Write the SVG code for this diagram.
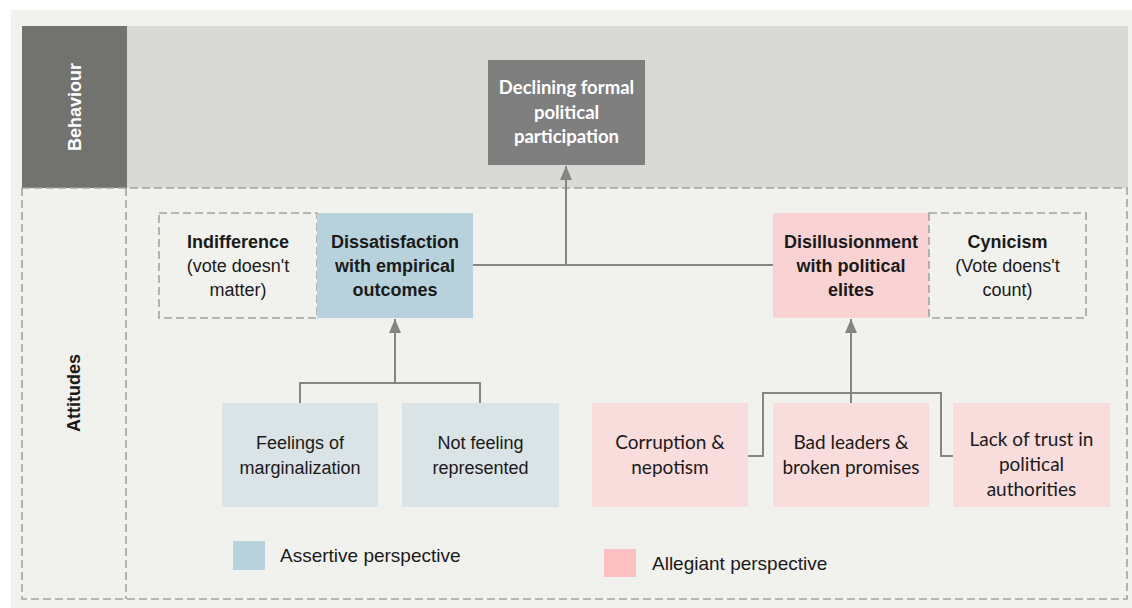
<svg xmlns="http://www.w3.org/2000/svg" width="1132" height="608" viewBox="0 0 1132 608">
<style>
.dash{fill:none;stroke:#a3a3a0;stroke-width:1.6;stroke-dasharray:8 4}
.conn{fill:none;stroke:#858582;stroke-width:2}
.a{font-family:"Liberation Sans",Arial,sans-serif;font-size:18px;fill:#1a1a1a;text-anchor:middle}
.b{font-weight:bold}
.c{font-family:Lato,"Liberation Sans",sans-serif;font-size:19px;fill:#1a1a1a;text-anchor:middle}
.w{font-family:Lato,"Liberation Sans",sans-serif;font-size:18.5px;font-weight:bold;fill:#ffffff;text-anchor:middle}
.lg{font-family:"Liberation Sans",Arial,sans-serif;font-size:19px;fill:#1a1a1a}
</style>
<defs>
<marker id="arr" viewBox="0 0 14 12" refX="14" refY="6" markerWidth="14" markerHeight="12" markerUnits="userSpaceOnUse" orient="auto">
<path d="M0,0 L14,6 L0,12 Z" fill="#858582"/>
</marker>
</defs>
<rect x="11" y="10" width="1121" height="598" fill="#f1f1ed"/>
<g id="band-behaviour">
<rect x="127" y="26" width="1001" height="162" fill="#d9d9d5"/>
<rect x="22" y="26" width="105" height="162" fill="#72726e"/>
<text x="0" y="0" transform="translate(81,107) rotate(-90)" font-family="'Liberation Sans',Arial,sans-serif" font-size="18" font-weight="bold" fill="#ffffff" text-anchor="middle">Behaviour</text>
</g>
<g id="band-attitudes">
<rect x="22" y="188" width="1105" height="411" class="dash"/>
<line x1="126" y1="188" x2="126" y2="599" class="dash"/>
<text x="0" y="0" transform="translate(80,393) rotate(-90)" font-family="'Liberation Sans',Arial,sans-serif" font-size="18" font-weight="bold" fill="#1a1a1a" text-anchor="middle">Attitudes</text>
</g>
<g id="connectors">
<line x1="566" y1="265" x2="566" y2="166" class="conn" marker-end="url(#arr)"/>
<line x1="473" y1="265" x2="773" y2="265" class="conn"/>
<polyline points="300,403 300,383 480,383 480,403" class="conn"/>
<line x1="395" y1="383" x2="395" y2="319" class="conn" marker-end="url(#arr)"/>
<polyline points="748,456 763,456 763,393 941,393 941,456 953,456" class="conn"/>
<line x1="851" y1="403" x2="851" y2="319" class="conn" marker-end="url(#arr)"/>
</g>
<g id="node-declining">
<rect x="488" y="60" width="157" height="105" fill="#7f7f7f"/>
<text class="w" x="566.5" y="94">Declining formal</text>
<text class="w" x="566.5" y="119">political</text>
<text class="w" x="566.5" y="143">participation</text>
</g>
<g id="node-indifference">
<rect x="159" y="213" width="158" height="105" class="dash"/>
<text class="a b" x="238" y="248">Indifference</text>
<text class="a" x="238" y="272">(vote doesn't</text>
<text class="a" x="238" y="296">matter)</text>
</g>
<g id="node-dissatisfaction">
<rect x="317" y="213" width="156" height="105" fill="#b8d2dd"/>
<text class="a b" x="395" y="248">Dissatisfaction</text>
<text class="a b" x="395" y="272">with empirical</text>
<text class="a b" x="395" y="296">outcomes</text>
</g>
<g id="node-disillusionment">
<rect x="773" y="213" width="156" height="105" fill="#f9d3d3"/>
<text class="a b" x="851" y="248">Disillusionment</text>
<text class="a b" x="851" y="272">with political</text>
<text class="a b" x="851" y="296">elites</text>
</g>
<g id="node-cynicism">
<rect x="929" y="213" width="157" height="105" class="dash"/>
<text class="a b" x="1007.5" y="248">Cynicism</text>
<text class="a" x="1007.5" y="272">(Vote doens't</text>
<text class="a" x="1007.5" y="296">count)</text>
</g>
<g id="node-marginalization">
<rect x="222" y="403" width="156" height="104" fill="#dae3e5"/>
<text class="a" x="300" y="449">Feelings of</text>
<text class="a" x="300" y="474">marginalization</text>
</g>
<g id="node-represented">
<rect x="402" y="403" width="157" height="104" fill="#dae3e5"/>
<text class="a" x="480.5" y="449">Not feeling</text>
<text class="a" x="480.5" y="474">represented</text>
</g>
<g id="node-corruption">
<rect x="592" y="403" width="156" height="104" fill="#f9dcdc"/>
<text class="c" x="670" y="449">Corruption &amp;</text>
<text class="c" x="670" y="474">nepotism</text>
</g>
<g id="node-badleaders">
<rect x="773" y="403" width="156" height="104" fill="#f9dcdc"/>
<text class="c" x="851" y="449">Bad leaders &amp;</text>
<text class="c" x="851" y="474">broken promises</text>
</g>
<g id="node-lacktrust">
<rect x="953" y="403" width="157" height="104" fill="#f9dcdc"/>
<text class="c" x="1031.5" y="446">Lack of trust in</text>
<text class="c" x="1031.5" y="471">political</text>
<text class="c" x="1031.5" y="496">authorities</text>
</g>
<g id="legend">
<rect x="233" y="541" width="32" height="29" fill="#b8d2dd"/>
<text class="lg" x="280" y="562">Assertive perspective</text>
<rect x="604" y="549" width="32" height="28" fill="#fdc1c3"/>
<text class="lg" x="652" y="570">Allegiant perspective</text>
</g>
</svg>
